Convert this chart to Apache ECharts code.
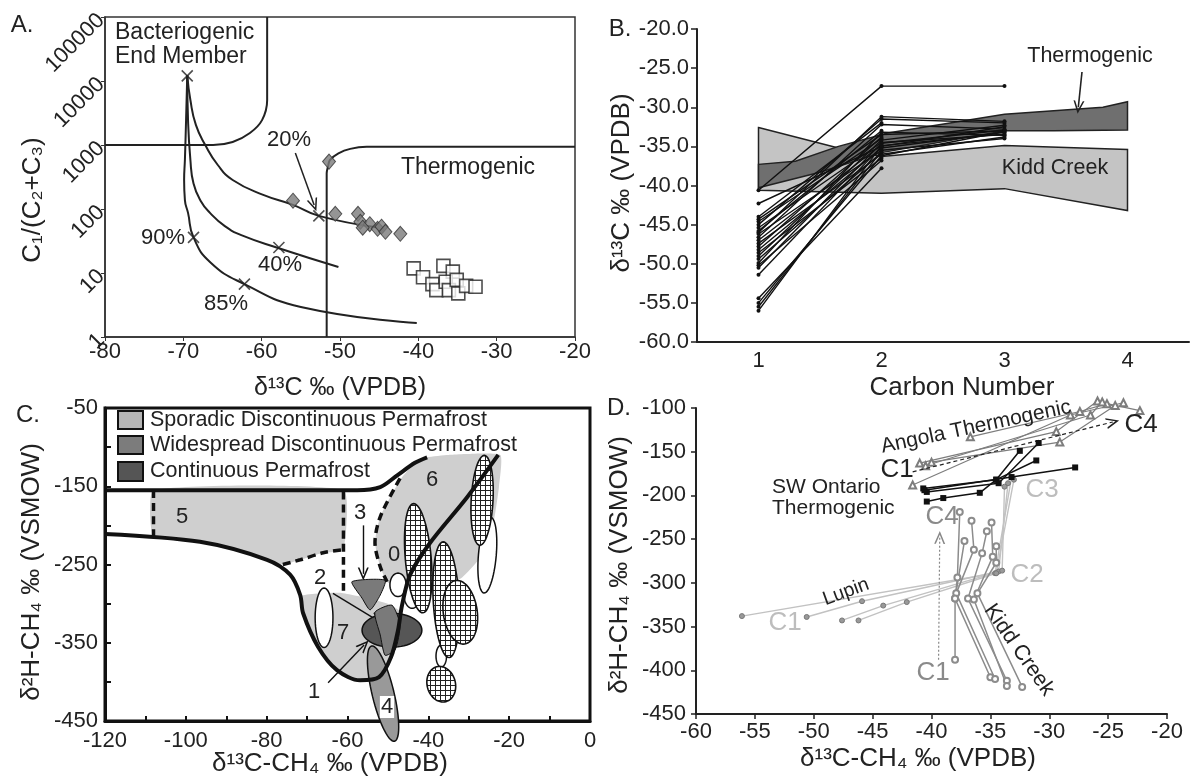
<!DOCTYPE html>
<html><head><meta charset="utf-8"><title>Isotope panels</title>
<script src="https://cdn.jsdelivr.net/npm/echarts/dist/echarts.min.js"></script>
<style>html,body{margin:0;padding:0;background:#fff;}#main{width:1193px;height:778px;}</style>
</head><body><div id="main"></div>
<script>
const FONT = '"Liberation Sans", Arial, Helvetica, sans-serif';

// ---------- Panel A ----------
const A_BACT_BOUNDARY = [[-80,1000],[-66.2,1000],[-63.7,1114],[-61.5,1540],[-59.95,2450],[-59.3,5000],[-59.3,100000]];
const A_THERM_BOUNDARY = [[-51.7,1],[-51.7,363],[-51.5,480],[-51.3,582],[-50.2,741],[-48.7,870],[-46.6,935],[-44.9,935],[-20,935]];
const A_MIX_20 = [[-69.5,12300],[-69.1,5040],[-68.4,2060],[-67.2,1000],[-65.6,487],[-63.7,284],[-59.8,166],[-56.0,116],[-52.7,78],[-45.4,52]];
const A_MIX_40 = [[-69.5,12300],[-69.4,2450],[-69.1,586],[-68.7,250],[-67.8,135],[-66.6,87],[-64.7,54],[-62.6,39],[-57.9,24.6],[-50.2,12.4]];
const A_MIX_90 = [[-69.5,12300],[-69.65,2450],[-69.8,586],[-69.9,284],[-69.8,138],[-69.4,87],[-68.7,36],[-66.5,14.5],[-62.2,6.7],[-55.0,2.95],[-40.2,1.65]];
const A_XMARKS = [[-69.5,12000],[-52.7,78],[-57.8,25],[-68.7,36],[-62.2,6.7]];
const A_DIAMONDS = [[-51.4,550],[-56,135],[-50.6,84],[-47.7,84],[-47.4,63],[-46.2,58],[-47.1,51],[-45.2,49],[-44.7,53],[-44.2,44],[-42.3,41]];
const A_SQUARES = [[-40.6,11.8],[-39.4,8.6],[-38.2,6.7],[-37.7,5.4],[-36.8,12.9],[-35.6,10.5],[-36.5,7.3],[-36.1,5.4],[-34.9,4.8],[-35.1,7.8],[-33.9,6.3],[-32.7,6.1]];
const A_ARROW_20 = [[-55.7,750],[-53.3,115]];

// ---------- Panel B ----------
const B_CATEGORIES = ['1','2','3','4'];
const B_KIDD_CREEK = [[1,-32.6],[1.65,-35.2],[2,-36.3],[3,-34.9],[4,-35.4],[4,-43.2],[3,-40.4],[2,-41.0],[1,-40.6]];
const B_THERMOGENIC = [[1,-37.3],[1.3,-36.9],[1.65,-35.0],[2.05,-33.3],[3,-30.9],[3.8,-30.0],[4,-29.3],[4,-32.9],[3.4,-33.0],[3,-33.0],[2,-35.8],[1.5,-38.3],[1,-40.3]];
const B_LINES = [
 [-40.6,-27.3,-27.3],[-42.3,-35.0,-32.5],[-44.3,-33.5,-33.0],[-44.6,-34.0,null],
 [-45.0,-31.5,-32.0],[-45.4,-34.5,-33.5],[-45.8,-33.0,null],[-46.2,-35.5,-34.0],
 [-46.6,-32.2,-32.8],[-47.0,-34.8,null],[-47.4,-36.0,-33.8],[-47.8,-33.8,null],
 [-48.2,-35.2,-33.2],[-48.6,-36.5,null],[-49.0,-34.2,-32.3],[-49.4,-35.8,null],
 [-49.9,-33.2,-33.6],[-50.2,-36.8,null],[-50.5,-34.6,-32.9],[-51.4,-35.0,null],
 [-54.4,-37.8,null],[-55.0,-36.2,-33.1],[-55.5,-35.6,null],[-56.0,-34.9,-33.4],
 [-44.0,-32.0,null],[-46.0,-31.2,-31.8]
];
const B_ARROW = [[3.63,-25.5],[3.6,-30.0]];

// ---------- Panel C ----------
const C_REGION5 = [[-108,-155],[-61,-155],[-61,-231],[-66,-235],[-71.7,-244],[-76,-250],[-80,-244],[-96.5,-221],[-108,-215]];
const C_REGION6 = [[-50.2,-272],[-51.9,-253],[-53.2,-222],[-51.9,-189],[-47,-142],[-43.3,-120],[-40.3,-113],[-35,-110],[-22.2,-110],[-22.5,-150],[-24,-200],[-27,-240],[-32,-268],[-40,-285],[-46,-284]];
const C_REGION7 = [[-71.5,-290],[-62,-286],[-55,-293],[-50,-300],[-47,-310],[-47.5,-334],[-49.2,-368],[-52.2,-394],[-56.9,-398],[-62.6,-385],[-67.3,-355],[-71,-312]];
const C_MED_POLYS = [
 [[-58.9,-272],[-50.7,-270],[-51.9,-289],[-54.4,-308],[-56.4,-293]],
 [[-53.2,-311],[-49,-302],[-47,-327],[-48.2,-359],[-50.7,-366],[-51.9,-340]]
];
const C_DARK_ELLIPSES = [[-49,-334,7.4,21.7,0]];
const C_MED_ELLIPSES = [[-51.2,-415,2.7,62.6,-13.6]];
const C_HATCH_ELLIPSES = [[-42.5,-242,3.2,70,-5],[-35.6,-295,3.2,74,-3],[-26.7,-168,2.7,57.5,3],[-32.1,-311,4.2,41,-8],[-36.8,-403,3.5,23,-15]];
const C_WHITE_ELLIPSES = [[-65.8,-318,2.2,38,0],[-25.4,-238,2.2,48.6,5],[-47.5,-276,2,15,0],[-44,-289,2,17,0],[-36.8,-367,1.3,14,0]];
const C_UPPER = [[-120,-155],[-57.6,-155],[-51.9,-151],[-47.7,-136],[-43.3,-120],[-40.3,-113]];
const C_LOWER = [[-120,-211],[-96.5,-221],[-79.9,-244],[-74.2,-263],[-71.7,-289],[-71,-312],[-67.3,-355],[-62.6,-385],[-56.9,-398],[-52.2,-394],[-49.2,-368],[-47.5,-334],[-46.5,-302],[-44.5,-263],[-39.6,-222.5],[-30.4,-164],[-22.7,-110]];
const C_DASH_LINES = [
 [[-108,-155],[-108,-215]],
 [[-61,-157],[-61,-290]],
 [[-76,-250],[-71.7,-244],[-66,-235],[-61,-231]],
 [[-47,-140],[-51.9,-189],[-53.2,-222],[-51.9,-253],[-50.2,-272]]
];
const C_ARROWS = [
 [[-56.1,-200],[-56.1,-262]],
 [[-63.6,-287],[-52.7,-321]],
 [[-64.8,-401],[-55.9,-353]]
];

// ---------- Panel D ----------
const D_ANGOLA = [
 [[-41.0,-163],[-29.4,-127],[-25.9,-92]],
 [[-40.0,-162],[-29.1,-139],[-24.4,-97]],
 [[-41.6,-188],[-28.2,-108],[-23.7,-94]],
 [[-36.7,-133],[-27.4,-104],[-25.1,-95],[-22.3,-103]],
 [[-40.5,-166],[-26.5,-108],[-25.5,-93]]
];
const D_SWONT = [
 [[-40.7,-192],[-34.5,-182],[-32.5,-149]],
 [[-40.4,-196],[-34.3,-186],[-30.9,-140]],
 [[-40.4,-207],[-39.0,-203],[-35.9,-197],[-34.5,-182],[-31.1,-160]],
 [[-40.6,-194],[-33.2,-179],[-27.8,-168]]
];
const D_KIDD = [
 [[-35.0,-408],[-38.0,-318],[-37.8,-294],[-37.6,-219]],
 [[-34.6,-410],[-37.9,-312],[-36.4,-262],[-36.6,-229]],
 [[-33.6,-412],[-36.9,-318],[-35.7,-266],[-35.3,-241]],
 [[-33.6,-418],[-36.4,-319],[-34.8,-270],[-34.9,-231]],
 [[-32.3,-419],[-36.1,-312],[-34.5,-277],[-34.5,-258]],
 [[-38.0,-388],[-38.0,-318],[-37.2,-252]]
];
const D_LUPIN = [
 [[-56.1,-338],[-34.6,-289],[-33.2,-179]],
 [[-50.6,-339],[-45.9,-321],[-34.3,-287],[-33.5,-186]],
 [[-47.6,-343],[-44.1,-326],[-34.0,-286],[-33.8,-190]],
 [[-46.2,-343],[-42.1,-322],[-34.5,-289],[-33.0,-182]]
];
const D_ARROW_BLACK = [[-41.6,-173],[-24.6,-116]];
const D_ARROW_GRAY = [[-39.4,-388],[-39.3,-248]];

// ---------- build ----------
const chart = echarts.init(document.getElementById('main'));
const CHEV = 'path://M0,12 L6,0 L12,12 L10.2,12 L6,3.6 L1.8,12 Z';
const hatch = (function(){const c=document.createElement('canvas');c.width=5;c.height=5;const g=c.getContext('2d');g.fillStyle='#fff';g.fillRect(0,0,5,5);g.strokeStyle='#222';g.lineWidth=1;g.beginPath();g.moveTo(0,0.5);g.lineTo(5,0.5);g.moveTo(0.5,0);g.lineTo(0.5,5);g.stroke();return c;})();

const lbl = {color:'#222', fontFamily:FONT, fontSize:22};
function arrowSeries(xi, yi, pts, color, width, type){
  return {type:'line', xAxisIndex:xi, yAxisIndex:yi, data:[], silent:true, z:20,
    markLine:{silent:true, animation:false, symbol:['none', CHEV], symbolSize:[11,13],
      lineStyle:{color:color, width:width, type:type||'solid'}, label:{show:false},
      emphasis:{disabled:true},
      data:[[{coord:pts[0]},{coord:pts[1]}]]}};
}
function polySeries(xi, yi, polys, style, smooth, z){
  return {type:'custom', xAxisIndex:xi, yAxisIndex:yi, silent:true, z:z,
    data: polys.map(p=>[p[0][0],p[0][1]]), encode:{x:0,y:1},
    renderItem:(params, api)=>({type:'polygon', shape:{points: polys[params.dataIndex].map(q=>api.coord(q)), smooth: smooth||0}, style: Object.assign({}, style)})};
}
function ellipseSeries(xi, yi, list, style, z){
  return {type:'custom', xAxisIndex:xi, yAxisIndex:yi, silent:true, z:z,
    data: list, encode:{x:0,y:1},
    renderItem:(params, api)=>{
      const c = api.coord([api.value(0), api.value(1)]);
      const s = api.size([api.value(2), api.value(3)]);
      const a = api.value(4)*Math.PI/180, pts=[];
      for(let k=0;k<60;k++){const t=k/60*2*Math.PI;const x=s[0]*Math.cos(t),y=s[1]*Math.sin(t);
        pts.push([c[0]+x*Math.cos(a)-y*Math.sin(a), c[1]+x*Math.sin(a)+y*Math.cos(a)]);}
      return {type:'polygon', shape:{points:pts}, style:Object.assign({}, style)};
    }};
}
function lineS(xi, yi, data, o){
  return Object.assign({type:'line', xAxisIndex:xi, yAxisIndex:yi, data:data, silent:true,
    showSymbol:false, symbol:'none', animation:false}, o);
}

const series = [];
// Panel A
series.push(lineS(0,0,A_BACT_BOUNDARY,{smooth:0.3, lineStyle:{color:'#222',width:2}}));
series.push(lineS(0,0,A_THERM_BOUNDARY,{smooth:0.3, lineStyle:{color:'#222',width:2}}));
[A_MIX_20, A_MIX_40, A_MIX_90].forEach(d=>series.push(lineS(0,0,d,{smooth:0.5, lineStyle:{color:'#222',width:2}})));
series.push({type:'scatter', xAxisIndex:0, yAxisIndex:0, data:A_XMARKS, symbol:'path://M0,0L10,10M10,0L0,10', symbolSize:11, z:5,
  itemStyle:{color:'transparent', borderColor:'#222', borderWidth:1.6}});
series.push({type:'scatter', xAxisIndex:0, yAxisIndex:0, data:A_DIAMONDS, symbol:'diamond', symbolSize:[13,15], z:6,
  itemStyle:{color:'#7a7a7a', borderColor:'#333', borderWidth:1}});
series.push({type:'scatter', xAxisIndex:0, yAxisIndex:0, data:A_SQUARES, symbol:'rect', symbolSize:13, z:6,
  itemStyle:{color:'#fff', borderColor:'#222', borderWidth:1.6}});
series.push(arrowSeries(0,0,A_ARROW_20,'#222',1.5));

// Panel B
series.push(polySeries(2,1,[B_KIDD_CREEK],{fill:'#c4c4c4', stroke:'#222', lineWidth:1.5},0,2));
series.push(polySeries(2,1,[B_THERMOGENIC],{fill:'#6f6f6f', stroke:'#222', lineWidth:1.5},0,3));
B_LINES.forEach(r=>{
  const d=[]; r.forEach((v,i)=>{ if(v!==null) d.push([i+1, v]); });
  series.push(lineS(2,1,d,{showSymbol:true, symbol:'circle', symbolSize:4, z:5,
    lineStyle:{color:'#111',width:1.4}, itemStyle:{color:'#111'}}));
});
series.push(arrowSeries(2,1,B_ARROW,'#222',1.6));

// Panel C
series.push(polySeries(3,2,[C_REGION5, C_REGION6, C_REGION7],{fill:'#cfcfcf', stroke:'none'},0.15,1));
series.push(ellipseSeries(3,2,C_WHITE_ELLIPSES,{fill:'#fff', stroke:'#111', lineWidth:1.5},3));
series.push(ellipseSeries(3,2,C_HATCH_ELLIPSES,{fill:{image:hatch, repeat:'repeat'}, stroke:'#111', lineWidth:1.6},4));
series.push(ellipseSeries(3,2,C_MED_ELLIPSES,{fill:'#999', stroke:'#111', lineWidth:1.5},4));
series.push(ellipseSeries(3,2,C_DARK_ELLIPSES,{fill:'#565656', stroke:'#111', lineWidth:1.5},5));
series.push(polySeries(3,2,C_MED_POLYS,{fill:'#7a7a7a', stroke:'#111', lineWidth:1},0.2,6));
series.push(lineS(3,2,C_UPPER,{smooth:0.3, z:8, lineStyle:{color:'#111',width:4}}));
series.push(lineS(3,2,C_LOWER,{smooth:0.3, z:8, lineStyle:{color:'#111',width:4}}));
C_DASH_LINES.forEach(d=>series.push(lineS(3,2,d,{smooth:0.3, z:8, lineStyle:{color:'#111',width:3.5,type:[8,5]}})));
C_ARROWS.forEach(a=>series.push(arrowSeries(3,2,a,'#111',1.4)));

// Panel D
D_LUPIN.forEach(d=>series.push(lineS(4,3,d,{showSymbol:true, symbol:'circle', symbolSize:5, z:3,
  lineStyle:{color:'#c2c2c2',width:1.4}, itemStyle:{color:'#999', borderColor:'#777', borderWidth:1}})));
D_KIDD.forEach(d=>series.push(lineS(4,3,d,{showSymbol:true, symbol:'emptyCircle', symbolSize:6, z:4,
  lineStyle:{color:'#8c8c8c',width:1.5}, itemStyle:{color:'#8c8c8c', borderColor:'#8c8c8c'}})));
D_ANGOLA.forEach(d=>series.push(lineS(4,3,d,{showSymbol:true, symbol:'emptyTriangle', symbolSize:7, z:4, clip:false,
  lineStyle:{color:'#7d7d7d',width:1.2}, itemStyle:{color:'#7d7d7d', borderColor:'#7d7d7d'}})));
D_SWONT.forEach(d=>series.push(lineS(4,3,d,{showSymbol:true, symbol:'rect', symbolSize:6, z:5,
  lineStyle:{color:'#111',width:1.5}, itemStyle:{color:'#111'}})));
series.push(arrowSeries(4,3,D_ARROW_BLACK,'#222',1.2,[4,3]));
series.push(arrowSeries(4,3,D_ARROW_GRAY,'#888',1.2,[2,2]));

function T(text, x, y, o){
  o=o||{};
  return {type:'text', x:x, y:y, rotation:o.rot||0, z:100, silent:true,
    style:{text:text, x:0, y:0, fill:o.color||'#222', fontSize:o.size||22, fontFamily:FONT,
      textAlign:o.align||'center', textVerticalAlign:'middle', align:o.align||'center', verticalAlign:'middle',
      backgroundColor:o.bg, padding:o.pad}};
}
const R90 = Math.PI/2;
const graphic = [
  T('A.',22,25,{size:24}), T('B.',620,29,{size:24}), T('C.',28,415,{size:24}), T('D.',619,408,{size:24}),
  // A
  T('Bacteriogenic',115,33,{align:'left',size:23}), T('End Member',115,57,{align:'left',size:23}),
  T('Thermogenic',468,168,{size:23}), T('20%',289,140), T('90%',163,238), T('40%',280,265), T('85%',226,304),
  T('C₁/(C₂+C₃)',33,200,{rot:R90,size:26}), T('δ¹³C ‰ (VPDB)',340,388,{size:25}),
  // B
  T('Thermogenic',1090,56,{size:21.5}), T('Kidd Creek',1055,168,{size:21.5}),
  T('δ¹³C ‰ (VPDB)',622,183,{rot:R90,size:26}), T('Carbon Number',962,388,{size:26}),
  // C
  T('Sporadic Discontinuous Permafrost',150,420,{align:'left',size:21.5}),
  T('Widespread Discontinuous Permafrost',150,445,{align:'left',size:21.5}),
  T('Continuous Permafrost',150,471,{align:'left',size:21.5}),
  T('5',182,517), T('6',432,480), T('3',360,513), T('0',394,555), T('2',320,578), T('7',343,633), T('1',314,692),
  T('4',387,707,{bg:'#fff', pad:[0,1]}),
  T('δ²H-CH₄ ‰ (VSMOW)',32,572,{rot:R90,size:26}), T('δ¹³C-CH₄ ‰ (VPDB)',330,764,{size:26}),
  // D
  T('Angola Thermogenic',976,427,{rot:0.21,size:21}),
  T('C1',897,470,{size:26}), T('C4',1141,425,{size:26}),
  T('SW Ontario',772,487,{align:'left',size:21}), T('Thermogenic',772,508,{align:'left',size:21}),
  T('C3',1042,490,{size:26,color:'#bdbdbd'}), T('C2',1027,575,{size:26,color:'#bdbdbd'}),
  T('C4',942,517,{size:26,color:'#8a8a8a'}), T('C1',933,673,{size:26,color:'#8a8a8a'}),
  T('C1',785,623,{size:26,color:'#bdbdbd'}),
  T('Lupin',846,592,{rot:0.35,size:19.5}), T('Kidd Creek',1019,650,{rot:-0.96,size:21.5}),
  T('δ²H-CH₄ ‰ (VSMOW)',620,565,{rot:R90,size:26}), T('δ¹³C-CH₄ ‰ (VPDB)',918,759,{size:26}),
  // C legend boxes
  {type:'rect', z:100, shape:{x:118,y:411,width:25,height:18}, style:{fill:'#b4b4b4', stroke:'#111', lineWidth:2}},
  {type:'rect', z:100, shape:{x:118,y:436,width:25,height:18}, style:{fill:'#7c7c7c', stroke:'#111', lineWidth:2}},
  {type:'rect', z:100, shape:{x:118,y:462,width:25,height:19}, style:{fill:'#555', stroke:'#111', lineWidth:2}}
];

const axLine = (w,c)=>({onZero:false, lineStyle:{color:c||'#222', width:w}});
const option = {
  animation:false,
  textStyle:{fontFamily:FONT},
  grid:[
    {left:105, top:17, width:470, height:320, show:true, borderColor:'#333', borderWidth:1.5},
    {left:697, top:29, width:492, height:313},
    {left:105, top:408, width:485, height:313, show:true, borderColor:'#111', borderWidth:3},
    {left:696, top:408, width:471, height:306}
  ],
  xAxis:[
    {gridIndex:0, type:'value', min:-80, max:-20, interval:10, splitLine:{show:false}, axisLine:axLine(1.5,'#333'),
      axisTick:{length:4, lineStyle:{color:'#333'}}, axisLabel:Object.assign({margin:4}, lbl)},
    {gridIndex:1, type:'category', data:B_CATEGORIES, boundaryGap:true, axisLine:axLine(2),
      axisTick:{length:6, lineStyle:{color:'#222', width:1.5}}, axisLabel:Object.assign({margin:8}, lbl)},
    {gridIndex:1, type:'value', min:0.5, max:4.5, show:false},
    {gridIndex:2, type:'value', min:-120, max:0, interval:10, splitLine:{show:false}, axisLine:axLine(3,'#111'),
      axisTick:{inside:true, length:5, lineStyle:{color:'#111', width:2}},
      axisLabel:Object.assign({margin:9, formatter:v=>(v%20===0?String(v):'')}, lbl)},
    {gridIndex:3, type:'value', min:-60, max:-20, interval:5, splitLine:{show:false}, axisLine:axLine(2),
      axisTick:{length:5, lineStyle:{color:'#222', width:1.5}}, axisLabel:Object.assign({margin:7}, lbl)}
  ],
  yAxis:[
    {gridIndex:0, type:'log', logBase:10, min:1, max:100000, splitLine:{show:false}, axisLine:axLine(1.5,'#333'),
      axisTick:{length:4, lineStyle:{color:'#333'}}, axisLabel:Object.assign({rotate:45, margin:4, formatter:v=>String(Math.round(v))}, lbl)},
    {gridIndex:1, type:'value', min:-60, max:-20, interval:5, splitLine:{show:false}, axisLine:axLine(2),
      axisTick:{length:6, lineStyle:{color:'#222', width:1.5}}, axisLabel:Object.assign({margin:8, formatter:v=>v.toFixed(1)}, lbl)},
    {gridIndex:2, type:'value', min:-450, max:-50, interval:50, splitLine:{show:false}, axisLine:axLine(3,'#111'),
      axisTick:{inside:true, length:6, lineStyle:{color:'#111', width:2}},
      axisLabel:Object.assign({margin:7, formatter:v=>((v/50)%2!==0?String(v):'')}, lbl)},
    {gridIndex:3, type:'value', min:-450, max:-100, interval:50, splitLine:{show:false}, axisLine:axLine(2),
      axisTick:{length:5, lineStyle:{color:'#222', width:1.5}}, axisLabel:Object.assign({margin:10}, lbl)}
  ],
  series: series,
  graphic: graphic
};
chart.setOption(option);
</script></body></html>
